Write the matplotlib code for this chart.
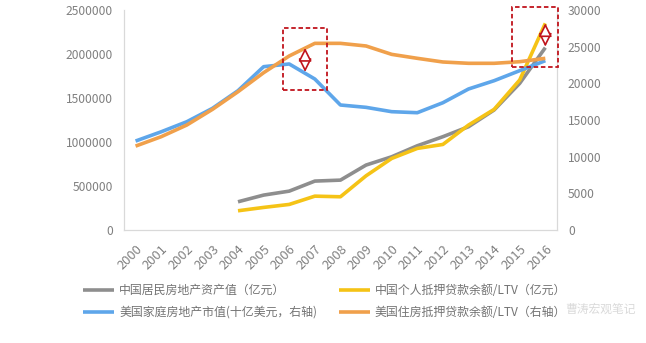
import matplotlib
matplotlib.use("Agg")
import matplotlib.pyplot as plt
from matplotlib.patches import Rectangle, FancyArrowPatch
from matplotlib.ticker import FuncFormatter
import matplotlib.transforms as mtransforms
import numpy as np

plt.rcParams['font.family'] = ['Noto Sans CJK SC', 'DejaVu Sans']

years = [str(y) for y in range(2000, 2017)]

# China series (left axis, 亿元), available from 2004
cn_years = years[4:]
cn_property = [322000, 398000, 443000, 557000, 568000, 739000, 833000, 958000,
               1061000, 1174000, 1364000, 1667000, 2072000]
cn_mortgage_ltv = [220000, 258000, 292000, 386000, 379000, 617000, 814000, 928000,
                   973000, 1193000, 1371000, 1705000, 2348000]

# US series (right axis)
us_property = [12140, 13400, 14770, 16590, 19000, 22270, 22640, 20590, 17050,
               16730, 16140, 16000, 17360, 19230, 20360, 21730, 23090]
us_mortgage_ltv = [11450, 12730, 14320, 16450, 18860, 21450, 23730, 25450, 25450,
                   25090, 23950, 23410, 22910, 22730, 22730, 22950, 23410]

labels = ["中国居民房地产资产值（亿元）", "中国个人抵押贷款余额/LTV（亿元）",
          "美国家庭房地产市值(十亿美元，右轴)", "美国住房抵押贷款余额/LTV（右轴）"]

c_gray, c_yellow, c_blue, c_orange = "#8e8e8e", "#f5c316", "#5ea6ea", "#f0a04b"
tick_col = "#808080"
spine_col = "#d9d9d9"

fig = plt.figure(figsize=(6.46, 3.43), dpi=100)
ax = fig.add_axes([0.192, 0.329, 0.670, 0.642])
ax2 = ax.twinx()

x = np.arange(len(years))
xc = np.arange(4, len(years))

l1, = ax.plot(xc, cn_property, color=c_gray, lw=2.6, solid_capstyle='butt')
l2, = ax.plot(xc, cn_mortgage_ltv, color=c_yellow, lw=2.6, solid_capstyle='butt')
l3, = ax2.plot(x, us_property, color=c_blue, lw=2.6, solid_capstyle='butt')
l4, = ax2.plot(x, us_mortgage_ltv, color=c_orange, lw=2.6, solid_capstyle='butt')

ax.set_xlim(-0.45, len(years) - 0.55)
ax.set_ylim(0, 2500000)
ax2.set_ylim(0, 30000)
ax.set_yticks(np.arange(0, 2500001, 500000))
ax2.set_yticks(np.arange(0, 30001, 5000))
plain = FuncFormatter(lambda v, p: f"{v:.0f}")
ax.yaxis.set_major_formatter(plain)
ax2.yaxis.set_major_formatter(plain)
ax.set_xticks(x)
ax.set_xticklabels(years, rotation=45, ha='right', rotation_mode='anchor')
shift = mtransforms.ScaledTranslation(6 / 100, 0, fig.dpi_scale_trans)
for lab in ax.get_xticklabels():
    lab.set_transform(lab.get_transform() + shift)

for a in (ax, ax2):
    for s in a.spines.values():
        s.set_color(spine_col)
    a.spines['top'].set_visible(False)
    a.tick_params(length=0, colors=tick_col, labelsize=8.7)
ax.tick_params(axis='x', labelsize=9.3, pad=9)
ax.tick_params(axis='y', pad=8)
ax2.tick_params(axis='y', pad=8)

# highlight boxes with double-headed arrows (data coordinates on the right axis)
red = "#c0141c"
boxes = [(5.75, 7.47, 19090, 27500, 21550, 24820, 6.62),
         (14.70, 16.49, 22270, 30450, 25000, 28180, 16.0)]
for (x0, x1, y0, y1, ya, yb, xa) in boxes:
    ax2.add_patch(Rectangle((x0, y0), x1 - x0, y1 - y0, fill=False, ec=red,
                            lw=1.3, ls=(0, (2.5, 1.5)), clip_on=False, zorder=5))
    ax2.add_patch(FancyArrowPatch((xa, ya), (xa, yb),
                                  arrowstyle='<|-|>,head_length=0.8,head_width=0.4',
                                  mutation_scale=10, fc='white', ec=red, lw=1.2,
                                  shrinkA=0, shrinkB=0, zorder=6, clip_on=False))

leg = fig.legend([l1, l3, l2, l4], [labels[0], labels[2], labels[1], labels[3]],
                 loc='upper left', ncol=2,
                 bbox_to_anchor=(0.129, 0.172), frameon=False, fontsize=8.6,
                 handlelength=2.6, handletextpad=0.4, columnspacing=1.8,
                 labelspacing=0.75, labelcolor="#737373", borderaxespad=0,
                 borderpad=0)

fig.text(0.875, 0.088, "曹涛宏观笔记", fontsize=8.5, color="#dadada")

fig.savefig("out.png", dpi=100, facecolor="white")
